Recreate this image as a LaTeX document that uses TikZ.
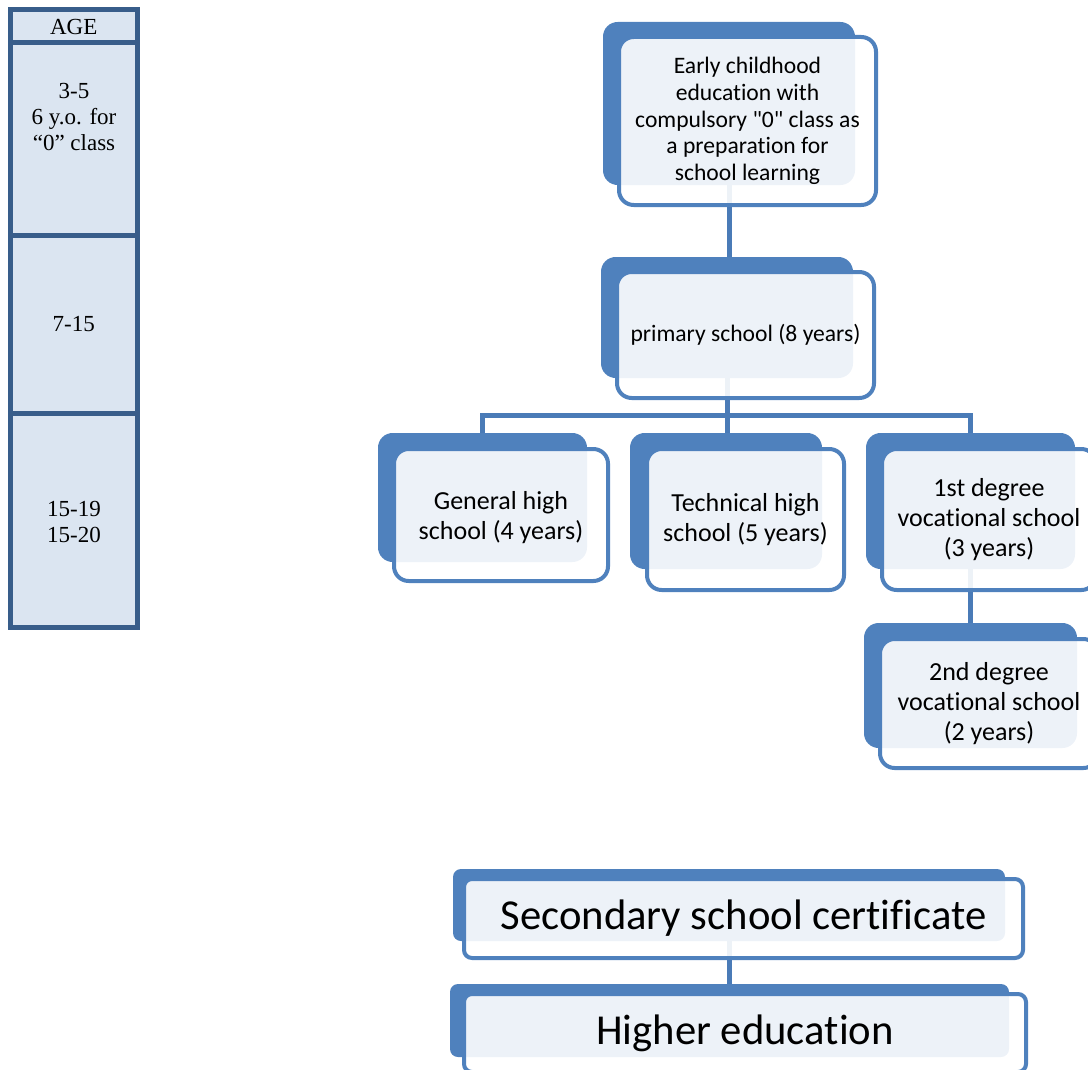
\documentclass[tikz,border=0pt]{standalone}
\usepackage{fontspec}
\setmainfont{Liberation Serif}
\newfontfamily\calib[Ligatures=NoCommon]{Carlito}
\usetikzlibrary{fit}
\definecolor{boxblue}{HTML}{4F81BD}
\definecolor{linkblue}{HTML}{4A7BB7}
\definecolor{tabblue}{HTML}{385D8A}
\definecolor{tabfill}{HTML}{DBE5F1}
\begin{document}
\begin{tikzpicture}[x=0.75pt,y=-0.75pt,
  back/.style={fill=boxblue, draw=none, rounded corners=11pt, inner sep=0pt},
  front/.style={draw=boxblue, line width=3pt, fill=white, fill opacity=0.9,
    text opacity=1, rounded corners=11pt, inner sep=0pt, align=center},
  smallback/.style={back, rounded corners=6pt},
  smallfront/.style={front, rounded corners=6pt},
  fmid/.style={font=\calib\fontsize{17.7}{20}\selectfont},
  fkid/.style={font=\calib\fontsize{19.5}{22.5}\selectfont},
  fbig/.style={font=\calib\fontsize{32}{38}\selectfont},
  link/.style={draw=linkblue, line width=3.75pt},
  cell/.style={draw=tabblue, fill=tabfill, line width=3.75pt, inner sep=0pt, line join=miter},
  agetxt/.style={align=center, font=\fontsize{17.25}{19.5}\selectfont, inner sep=0pt}]
\clip (0,0) rectangle (1088,1070);

% age table
\node[cell, fit={(10,10) (137.5,43)}] (c0) {};
\node[cell, fit={(10,43) (137.5,235)}] (c1) {};
\node[cell, fit={(10,235) (137.5,413)}] (c2) {};
\node[cell, fit={(10,413) (137.5,627.5)}] (c3) {};
\node[agetxt] (t0) at (c0.center) {AGE};
\node[agetxt] (t1) at (74,117) {3-5\\6 y.o. for\\``0'' class};
\node[agetxt] (t2) at (c2.center) {7-15};
\node[agetxt] (t3) at (74,522) {15-19\\15-20};

% back plates
\node[back, fit={(603,22) (855,185)}] (a1) {};
\node[back, fit={(601,257) (853,378)}] (a2) {};
\node[back, fit={(378,433) (587,562)}] (ag) {};
\node[back, fit={(630,433) (822,569)}] (at) {};
\node[back, fit={(866,433) (1075,569)}] (av1) {};
\node[back, fit={(864,623) (1077,748)}] (av2) {};
\node[smallback, fit={(453,869) (1005,941)}] (as) {};
\node[smallback, fit={(450,984) (1009,1057)}] (ah) {};

% connectors
\coordinate (bar) at (727,415);
\draw[link] (a1.south) -- (a1.south |- a2.north);
\draw[link] (a2.south) -- (a2.south |- bar);
\draw[link] (ag.north) |- (bar) -| (av1.north);
\draw[link] (bar) -- (bar |- at.north);
\draw[link] (av1.south) -- (av1.south |- av2.north);
\draw[link] (as.south) -- (as.south |- ah.north);

% front plates
\node[front, fit={(619,37) (876,205)}] (b1) {};
\node[fmid, align=center] (l1) at (b1.center) {Early childhood\\education with\\compulsory "0" class as\\a preparation for\\school learning};
\node[front, fit={(617,272) (874,398)}] (b2) {};
\node[fmid] (l2) at (b2.center) {primary school (8 years)};
\node[front, fit={(394,449) (608,581)}] (bg) {};
\node[fkid, align=center] (lg) at ([yshift=-2]bg.center) {General high\\school (4 years)};
\node[front, fit={(647,449) (844,590)}] (bt) {};
\node[fkid, align=center] (lt) at (bt.center) {Technical high\\school (5 years)};
\node[front, fit={(882,449) (1096,590)}] (bv1) {};
\node[fkid, align=center] (lv1) at (bv1.center) {1st degree\\vocational school\\(3 years)};
\node[front, fit={(880,639) (1098,768)}] (bv2) {};
\node[fkid, align=center] (lv2) at (bv2.center) {2nd degree\\vocational school\\(2 years)};
\node[smallfront, fit={(464,879) (1023,958)}] (bs) {};
\node[fbig] (ls) at (bs.center) {Secondary school certificate};
\node[smallfront, fit={(464,994) (1026,1072)}] (bh) {};
\node[fbig] (lh) at (bh.center) {Higher education};
\end{tikzpicture}
\end{document}
